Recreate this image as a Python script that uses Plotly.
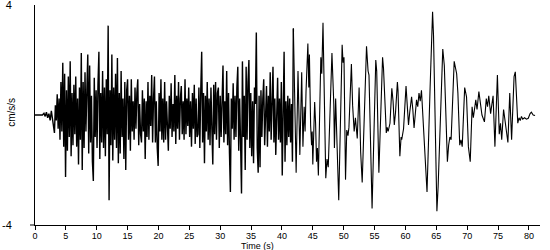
import plotly.graph_objects as go

# ---- data ----
pre_t = [0.0, 1.2, 1.45, 1.65, 1.85, 2.05, 2.25, 2.45, 2.65, 2.85]
pre_a = [0.0, 0.0, 0.06, -0.05, 0.1, -0.1, 0.05, -0.2, 0.15, -0.15]

dense_start = 3.0
dense_step = 0.15
dense_a = [
    -0.3, -0.65, 0.35, -0.2, 0.75, -0.5, 0.6, -0.9, 1.2, -0.6, 1.9, -1.15, 1.5, -2.25, 0.9, -1.3, 1.4, -0.8, 1.95, -1.5,
    0.8, -1.1, 1.1, -0.7, 1.4, -1.15, 0.6, -1.8, 1.0, -0.9, 2.25, -2.0, 1.2, -1.2, 1.55, -0.6, 0.9, 2.2, -1.4, 1.8,
    -1.0, 0.7, -1.7, -2.4, 1.35, -0.8, 0.9, -1.2, 1.1, 2.3, -1.6, 0.8, -1.0, 1.6, -1.2, 1.0, -1.5, 1.3, -0.7, 3.25,
    -3.1, 0.9, -1.1, 2.2, -1.65, 1.0, -0.9, 1.5, -1.2, 2.07, -1.75, 0.8, -1.4, 1.6, -0.8, 0.6, -1.6, 1.2, -2.0, 0.9,
    1.3, -0.9, 0.7, -1.3, 1.3, -0.6, 0.5, -0.9, 1.0, -0.5, 0.8, 1.3, -1.1, 0.4, -0.7, -1.0, 0.9, -0.6, 0.6, -1.6,
    0.5, -0.8, 1.2, -0.9, 0.7, -0.4, 1.45, -1.0, 0.6, 1.4, -1.0, 0.5, -1.2, -1.85, 0.8, -0.6, 1.3, -0.9, 0.6, -1.0,
    1.2, -0.9, 0.5, -0.7, -1.3, 0.7, -0.5, 1.15, -0.8, 0.4, -0.6, 1.45, -1.05, 0.7, -0.5, 1.2, -0.9, 0.6, 1.05, -0.7,
    0.5, -0.9, 1.3, -0.7, 0.6, -0.4, 1.0, -0.8, 0.5, -1.15, 0.8, -0.5, 1.1, -1.05, 0.6, -0.8, -0.7, 1.0, -1.2, 0.9,
    2.3, -1.0, 0.8, -1.75, 0.7, -0.6, 1.2, -0.9, 0.6, -1.1, 1.0, -0.5, -1.8, 1.1, -0.7, 1.2, -0.9, 0.8, 1.0, -1.2,
    0.7, -0.8, 1.2, 1.8, -1.0, 0.5, -0.7, 1.6, -1.1, 0.8, -1.4, -2.8, 0.6, -0.5, 1.15, -0.9, 0.7, -0.8, 1.0, 1.75,
    -1.3, 0.6, -1.0, -2.85, 1.95, -0.8, 0.7, -2.0, 1.75, -0.9, 1.2, 2.0, -1.2, 0.8, -1.5, 0.5, -1.75, 1.0, 0.4, 3.0,
    -1.2, -2.1, 0.7, -1.9, 0.9, -0.8, 0.6, 1.3, -1.1, 0.5, 1.05, -1.15, 0.7, -0.6, 1.55, -0.9, 0.8, 1.75, -1.0, 0.6,
    -1.45, 0.8, 1.35, -0.9, 0.6, -1.0, 1.2, -2.2, 0.9, 2.3, -1.7, 0.5, -1.1, 0.7, -0.8, 0.6, -1.0, 0.4, -1.7, 3.15,
]

late_t = [42.3, 42.6, 42.9, 43.2, 43.4, 43.6, 43.75, 43.9, 44.2, 44.35, 44.45, 44.65, 44.8, 44.9, 45.0,
          45.3, 45.45, 45.6, 45.75, 45.9, 46.3, 46.45, 46.65, 47.1, 47.3, 47.5, 48.1, 48.4, 48.5, 48.7,
          49.2, 49.75, 49.9, 50.05, 50.3, 50.5, 50.7, 50.85, 51.25, 51.45, 51.7, 51.9, 52.2, 52.5, 52.75,
          53.0, 53.7, 53.95, 54.1, 54.6, 55.2, 55.35, 55.7, 56.3, 56.45, 56.9, 57.05, 57.2, 57.5, 57.8,
          58.0, 58.2, 58.4, 58.7, 58.8, 59.1, 59.3, 59.4, 59.7, 60.1, 60.5, 60.7, 61.0, 61.2, 61.4,
          61.8, 62.0, 62.2, 62.4, 62.6, 62.9, 63.2, 63.5, 64.0, 64.4, 64.55, 65.1, 65.3, 66.05, 66.3,
          66.8, 67.0, 67.2, 67.4, 67.9, 68.3, 68.5, 68.8, 69.0, 69.2, 69.6, 69.9, 70.2, 70.5, 70.8,
          71.0, 71.4, 71.6, 71.9, 72.4, 72.8, 73.1, 73.3, 73.5, 73.8, 74.2, 74.5, 74.9, 75.2, 75.4,
          75.6, 75.9, 76.1, 76.6, 76.9, 77.2, 77.6, 77.8, 78.2, 78.4, 78.6, 78.8, 79.0, 79.3, 79.6,
          79.9, 80.2, 80.4, 80.7, 81.0]
late_a = [-2.1, 1.6, -1.45, 1.55, -1.15, 0.3, -0.6, 0.85, 2.6, 1.0, 2.2, -0.4, -1.1, -0.6, -1.8,
          0.47, -0.3, -1.7, -1.2, -2.2, 2.1, 1.5, 3.35, -2.3, -1.6, -1.9, 2.25, 0.4, -1.2, 0.6,
          -3.1, 2.55, 1.9, 2.1, -2.35, -0.55, -0.75, -0.45, 1.85, 0.35, -0.6, -0.1, -0.85, 1.0, -1.35,
          -2.45, 2.5, 1.6, 1.45, -3.4, 2.0, 1.6, -2.1, 2.1, 1.7, -0.65, -0.45, -0.6, -0.3, 0.97,
          0.5, -0.36, 0.1, 1.2, 0.9, -1.5, -0.8, -0.9, -0.5, 1.05, -0.36, 0.1, 0.66, 0.2, -0.47,
          0.55, 0.3, 0.8, 0.5, 0.9, -0.5, -1.75, -2.8, 1.0, 3.75, 2.9, -3.5, -2.6, 2.4, 1.8,
          -1.7, -1.1, -0.8, -0.9, 1.95, 1.5, 0.8, -1.1, -0.9, -1.15, 1.0, 0.66, -1.15, -1.7, 0.3,
          -0.1, 0.55, 0.2, 0.85, 0.0, -0.25, 0.6, 0.3, 0.7, 0.05, 0.7, -1.15, 1.45, -0.7, -0.3,
          -0.9, 0.2, -0.1, -1.0, 0.8, -0.9, 1.4, 1.57, -0.3, -0.1, -0.2, -0.05, -0.15, -0.1, -0.15,
          -0.12, 0.05, 0.1, 0.0, -0.02]

x_ticks = [0, 5, 10, 15, 20, 25, 30, 35, 40, 45, 50, 55, 60, 65, 70, 75, 80]
y_ticks = [-4, 4]
y_ticktext = ["-4", "4"]

# ---- assemble ----
dense_t = [round(dense_start + dense_step * i, 3) for i in range(len(dense_a))]
early_t = pre_t + dense_t
early_a = pre_a + dense_a
tail_t = [dense_t[-1]] + late_t
tail_a = [dense_a[-1]] + late_a

font = "Liberation Sans, Arial, sans-serif"

fig = go.Figure()
fig.add_trace(go.Scatter(x=early_t, y=early_a, mode="lines",
                         line=dict(color="black", width=1.4), hoverinfo="skip"))
fig.add_trace(go.Scatter(x=tail_t, y=tail_a, mode="lines",
                         line=dict(color="black", width=1.1), hoverinfo="skip"))

fig.update_layout(
    width=550, height=250,
    margin=dict(l=35, r=10, t=5, b=25, autoexpand=False),
    plot_bgcolor="white", paper_bgcolor="white",
    showlegend=False,
    font=dict(family=font, size=10, color="black"),
    xaxis=dict(range=[0, 81.8], tickvals=x_ticks, ticks="outside", ticklen=4,
               tickcolor="black", showline=True, linecolor="black", linewidth=1,
               showgrid=False, zeroline=False, tickfont=dict(size=9),
               ticklabelstandoff=-2, automargin=False),
    yaxis=dict(range=[-4, 4], tickvals=y_ticks, ticktext=y_ticktext, ticks="",
               showline=True, linecolor="black", linewidth=1,
               showgrid=False, zeroline=False, ticklabelstandoff=20,
               ticklabeloverflow="allow", tickfont=dict(size=11),
               automargin=False),
    shapes=[dict(type="line", xref="paper", yref="paper", x0=-5 / 505, x1=0,
                 y0=0, y1=0, line=dict(color="black", width=1))],
    annotations=[
        dict(text="cm/s/s", xref="paper", yref="paper", x=0, y=0.51,
             xanchor="center", yanchor="middle", xshift=-23, textangle=-90,
             showarrow=False, font=dict(size=10)),
        dict(text="Time (s)", xref="paper", yref="paper", x=0.4406, y=0,
             xanchor="center", yanchor="middle", yshift=-21,
             showarrow=False, font=dict(size=9)),
    ],
)

fig.write_html("out.html")
